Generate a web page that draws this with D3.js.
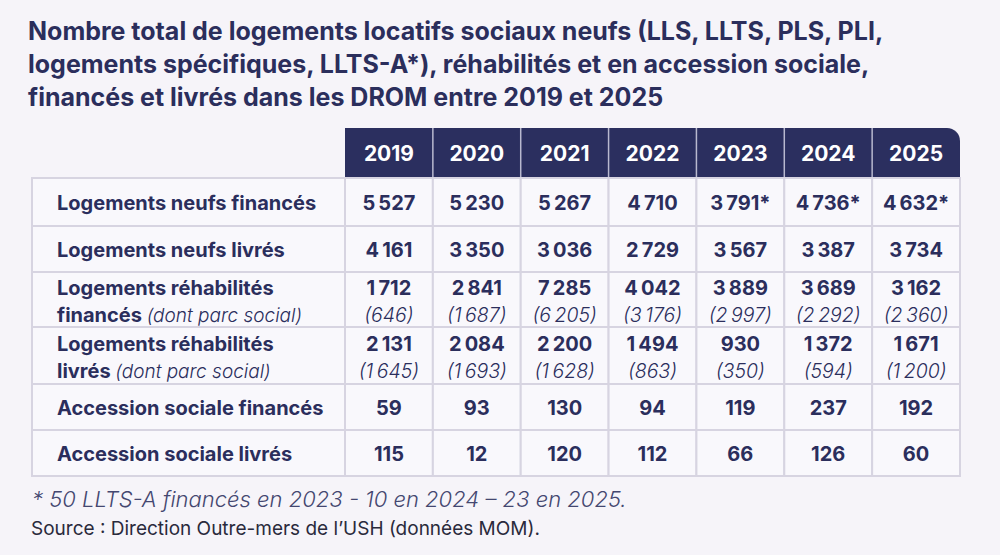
<!DOCTYPE html>
<meta charset="utf-8">
<head>
<style>
  body { margin: 0; background: #f6f4f9; }
  svg { display: block; font-family: Inter, "Noto Sans", sans-serif; }
</style>
</head>
<body>
<script src="https://d3js.org/d3.v7.min.js"></script>
<script>
var years = ["2019", "2020", "2021", "2022", "2023", "2024", "2025"];
var rowLabels = [
  ["Logements neufs financés"],
  ["Logements neufs livrés"],
  ["Logements réhabilités", "financés"],
  ["Logements réhabilités", "livrés"],
  ["Accession sociale financés"],
  ["Accession sociale livrés"]
];
var neufsFinances = [5527, 5230, 5267, 4710, 3791, 4736, 4632];
var neufsFinancesStar = [false, false, false, false, true, true, true];
var neufsLivres = [4161, 3350, 3036, 2729, 3567, 3387, 3734];
var rehabFinances = [1712, 2841, 7285, 4042, 3889, 3689, 3162];
var rehabFinancesParc = [646, 1687, 6205, 3176, 2997, 2292, 2360];
var rehabLivres = [2131, 2084, 2200, 1494, 930, 1372, 1671];
var rehabLivresParc = [1645, 1693, 1628, 863, 350, 594, 1200];
var accessionFinances = [59, 93, 130, 94, 119, 237, 192];
var accessionLivres = [115, 12, 120, 112, 66, 126, 60];

var titleLines = [
  "Nombre total de logements locatifs sociaux neufs (LLS, LLTS, PLS, PLI,",
  "logements spécifiques, LLTS-A*), réhabilités et en accession sociale,",
  "financés et livrés dans les DROM entre 2019 et 2025"
];
var footnote = "* 50 LLTS-A financés en 2023 - 10 en 2024 – 23 en 2025.";
var source = "Source : Direction Outre-mers de l’USH (données MOM).";

var rows = [
  {main: neufsFinances, star: neufsFinancesStar},
  {main: neufsLivres},
  {main: rehabFinances, sub: rehabFinancesParc},
  {main: rehabLivres, sub: rehabLivresParc},
  {main: accessionFinances},
  {main: accessionLivres}
];

var navy = "#2b2e5c", grid = "#d7d4e1";
var W = 1000, H = 555;
var tableLeft = 32, labelRight = 345, tableRight = 960;
var headTop = 128, headBottom = 178;
var rowHeights = [48, 46, 55, 57, 46, 46];

var fr = d3.formatLocale({decimal: ",", thousands: "\u202f", grouping: [3], currency: ["", " €"]});
var fmt = fr.format(",d");

var svg = d3.select("body").append("svg")
  .attr("width", W).attr("height", H);

svg.append("rect").attr("width", W).attr("height", H).attr("fill", "#f6f4f9");

// title
svg.append("g").selectAll("text")
  .data(titleLines)
  .join("text")
  .attr("x", 28)
  .attr("y", (d, i) => 40 + i * 33)
  .attr("fill", navy)
  .attr("font-size", 25)
  .attr("font-weight", 700)
  .text(d => d);

var x = d3.scaleBand().domain(years).range([labelRight, tableRight]);

var rowTops = [headBottom];
rowHeights.forEach((h, i) => rowTops.push(rowTops[i] + h));
var y = i => rowTops[i];

// header
var r = 13;
svg.append("path")
  .attr("d", "M" + labelRight + "," + headBottom + "V" + headTop + "H" + (tableRight - r) +
    "A" + r + "," + r + " 0 0 1 " + tableRight + "," + (headTop + r) + "V" + headBottom + "Z")
  .attr("fill", "#2b2f5f");

svg.append("g").selectAll("line")
  .data(years.slice(1))
  .join("line")
  .attr("x1", d => x(d)).attr("x2", d => x(d))
  .attr("y1", headTop).attr("y2", headBottom)
  .attr("stroke", "#b9b9cf").attr("stroke-width", 1.5);

svg.append("g").selectAll("text")
  .data(years)
  .join("text")
  .attr("x", d => x(d) + x.bandwidth() / 2)
  .attr("y", (headTop + headBottom) / 2 + 8)
  .attr("text-anchor", "middle")
  .attr("fill", "white")
  .attr("font-size", 21)
  .attr("font-weight", 700)
  .text(d => d);

// body cells
var body = svg.append("g");
rows.forEach(function(row, i) {
  var top = y(i), h = rowHeights[i];
  body.append("rect")
    .attr("x", tableLeft).attr("y", top)
    .attr("width", labelRight - tableLeft).attr("height", h)
    .attr("fill", "#f9f8fc").attr("stroke", grid).attr("stroke-width", 2);
  body.selectAll(null)
    .data(years)
    .enter().append("rect")
    .attr("x", d => x(d)).attr("y", top)
    .attr("width", x.bandwidth()).attr("height", h)
    .attr("fill", "#f9f8fc").attr("stroke", grid).attr("stroke-width", 2);

  var lab = rowLabels[i];
  var mid = top + h / 2;
  if (lab.length == 1) {
    body.append("text")
      .attr("x", 57).attr("y", mid + 7.5)
      .attr("fill", navy).attr("font-size", 20).attr("font-weight", 700)
      .text(lab[0]);
  } else {
    body.append("text")
      .attr("x", 57).attr("y", mid - 4.5)
      .attr("fill", navy).attr("font-size", 20).attr("font-weight", 700)
      .text(lab[0]);
    var t2 = body.append("text")
      .attr("x", 57).attr("y", mid + 22)
      .attr("fill", navy).attr("font-size", 20);
    t2.append("tspan").attr("font-weight", 700).text(lab[1] + " ");
    t2.append("tspan").attr("font-style", "italic").attr("font-weight", 300)
      .attr("font-size", 19).text("(dont parc social)");
  }

  body.selectAll(null)
    .data(row.main)
    .enter().append("text")
    .attr("x", (d, j) => x(years[j]) + x.bandwidth() / 2)
    .attr("y", row.sub ? mid - 4.5 : mid + 7.5)
    .attr("text-anchor", "middle")
    .attr("fill", navy).attr("font-size", 20).attr("font-weight", 700)
    .text((d, j) => fmt(d) + (row.star && row.star[j] ? "*" : ""));

  if (row.sub) {
    body.selectAll(null)
      .data(row.sub)
      .enter().append("text")
      .attr("x", (d, j) => x(years[j]) + x.bandwidth() / 2)
      .attr("y", mid + 22)
      .attr("text-anchor", "middle")
      .attr("fill", navy).attr("font-size", 19.5).attr("font-style", "italic").attr("font-weight", 300)
      .text(d => "(" + fmt(d) + ")");
  }
});

// notes
svg.append("text")
  .attr("x", 32).attr("y", 507)
  .attr("fill", "#444770").attr("font-size", 22)
  .attr("font-style", "italic").attr("font-weight", 300)
  .text(footnote);
svg.append("text")
  .attr("x", 31).attr("y", 535)
  .attr("fill", "#2a2a3c").attr("font-size", 19)
  .text(source);
</script>
</body>
